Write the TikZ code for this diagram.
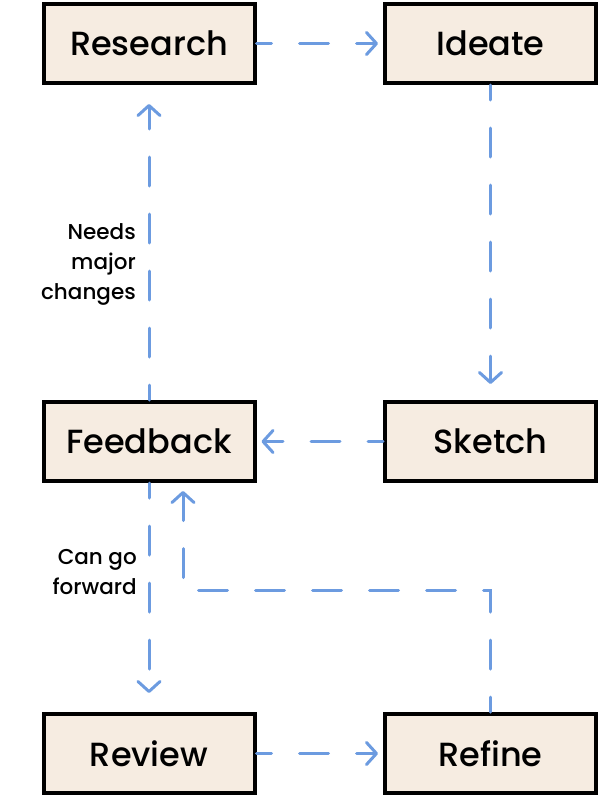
\documentclass[tikz,border=0pt]{standalone}
\usepackage{fontspec}
\setmainfont{Poppins Medium}
\usetikzlibrary{arrows.meta}
\definecolor{boxfill}{HTML}{F6ECE1}
\definecolor{connblue}{HTML}{6C9BE0}
\begin{document}
\begin{tikzpicture}[x=1pt,y=-1pt,
  box/.style={draw=black, line width=4pt, fill=boxfill, minimum width=211pt, minimum height=79pt, inner sep=0pt, font=\fontsize{33.5}{40}\selectfont},
  conn/.style={draw=connblue, line width=3pt, line cap=round, dash pattern=on 29pt off 28pt, dash phase=14pt,
    -{Straight Barb[length=10pt,width=22pt,line cap=round,line join=round]}},
  lbl/.style={align=right, anchor=east, inner sep=0pt, font=\fontsize{21.5}{30}\selectfont}]
\useasboundingbox (0,0) rectangle (600,798);
\node[box] (research) at (149,43.5) {Research};
\node[box] (ideate) at (490.5,43.5) {Ideate};
\node[box] (feedback) at (149,441.5) {Feedback};
\node[box] (sketch) at (490.5,441.5) {Sketch};
\node[box] (review) at (149,753.5) {Review};
\node[box] (refine) at (490.5,753.5) {Refine};
\coordinate (bend) at (183,590);
\draw[conn, shorten >=5pt] (research.east) -- (ideate.west);
\draw[conn, shorten >=16pt] (ideate.south) -- (sketch.north);
\draw[conn, shorten >=5pt] (sketch.west) -- (feedback.east);
\draw[conn, shorten >=19pt] (feedback.north) -- (research.south);
\draw[conn, shorten >=19pt] (feedback.south) -- (review.north);
\draw[conn, shorten >=8pt] (refine.north) |- (bend) -- (bend |- feedback.south);
\draw[conn, shorten >=5pt] (review.east) -- (refine.west);
\node[lbl] (lmajor) at (136,264) {Needs\\major\\changes};
\node[lbl] (lfwd) at (137,572) {Can go\\forward};
\end{tikzpicture}
\end{document}
